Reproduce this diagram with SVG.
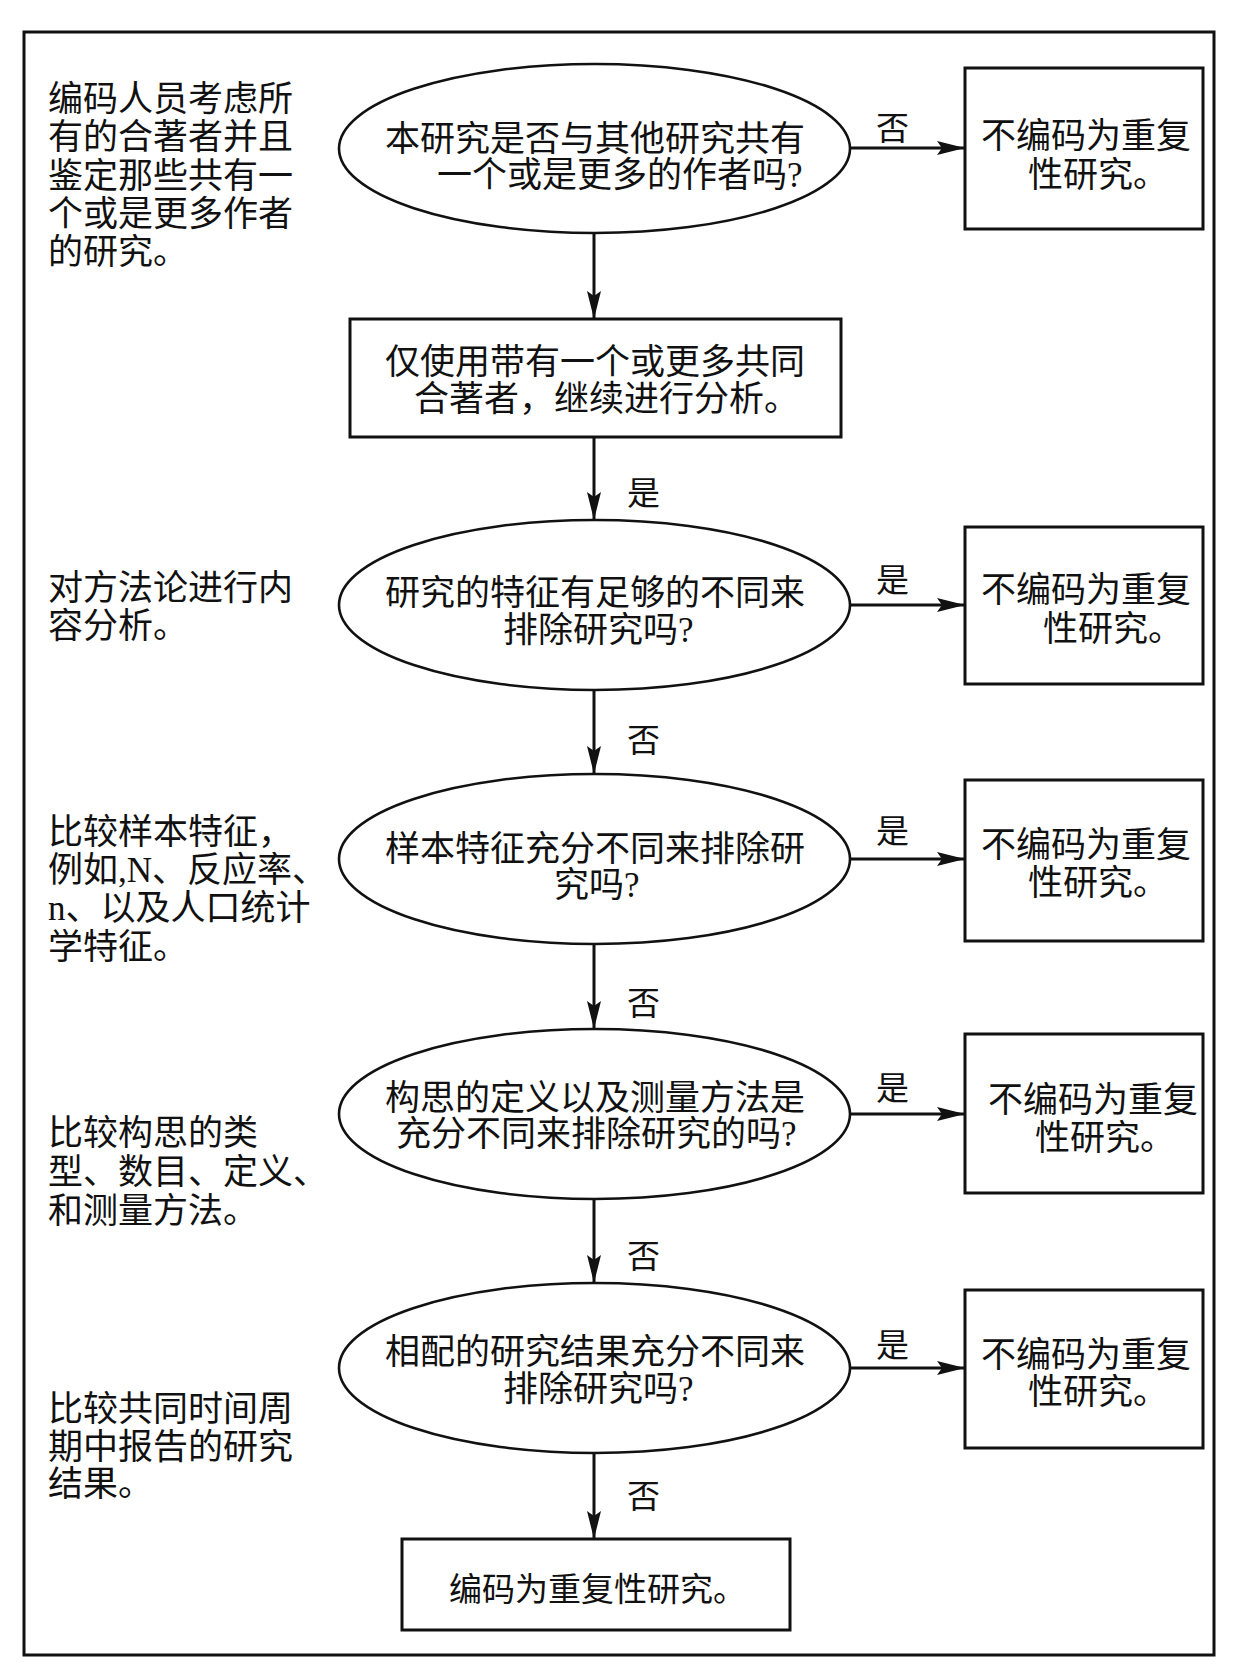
<svg xmlns="http://www.w3.org/2000/svg" width="1233" height="1669" viewBox="0 0 1233 1669">
<style>
  .t { font-family: "Liberation Serif", "Noto Sans CJK SC", serif; font-size: 35px; fill: #111; }
  .lb { font-family: "Liberation Serif", "Noto Sans CJK SC", serif; font-size: 33px; fill: #111; }
  .shape { fill: #fff; stroke: #111; stroke-width: 3; }
  .ell { fill: #fff; stroke: #111; stroke-width: 2.6; }
  .conn { stroke: #111; stroke-width: 3; fill: none; marker-end: url(#arr); }
</style>
<defs>
  <marker id="arr" markerUnits="userSpaceOnUse" markerWidth="28" markerHeight="14" refX="28" refY="7" orient="auto">
    <path d="M0,0 L28,7 L0,14 L5,7 Z" fill="#111"/>
  </marker>
</defs>
<rect x="0" y="0" width="1233" height="1669" fill="#fff"/>
<rect id="frame" x="24" y="32" width="1190" height="1623" fill="none" stroke="#111" stroke-width="3"/>

<g id="notes">
  <g id="note1">
    <text class="t" x="48" y="111">编码人员考虑所</text>
    <text class="t" x="48" y="149">有的合著者并且</text>
    <text class="t" x="48" y="188">鉴定那些共有一</text>
    <text class="t" x="48" y="226">个或是更多作者</text>
    <text class="t" x="48" y="264">的研究。</text>
  </g>
  <g id="note2">
    <text class="t" x="48" y="600">对方法论进行内</text>
    <text class="t" x="48" y="638">容分析。</text>
  </g>
  <g id="note3">
    <text class="t" x="48" y="844">比较样本特征，</text>
    <text class="t" x="48" y="882">例如,N、反应率、</text>
    <text class="t" x="48" y="920">n、以及人口统计</text>
    <text class="t" x="48" y="959">学特征。</text>
  </g>
  <g id="note4">
    <text class="t" x="48" y="1145">比较构思的类</text>
    <text class="t" x="48" y="1184">型、数目、定义、</text>
    <text class="t" x="48" y="1223">和测量方法。</text>
  </g>
  <g id="note5">
    <text class="t" x="48" y="1421">比较共同时间周</text>
    <text class="t" x="48" y="1459">期中报告的研究</text>
    <text class="t" x="48" y="1496">结果。</text>
  </g>
</g>

<g id="connectors">
  <line class="conn" x1="594" y1="233" x2="594" y2="319"/>
  <line class="conn" x1="594" y1="437" x2="594" y2="520"/>
  <line class="conn" x1="594" y1="690" x2="594" y2="774"/>
  <line class="conn" x1="594" y1="944" x2="594" y2="1029"/>
  <line class="conn" x1="594" y1="1199" x2="594" y2="1283"/>
  <line class="conn" x1="594" y1="1453" x2="594" y2="1539"/>
  <line class="conn" x1="850" y1="148" x2="965" y2="148"/>
  <line class="conn" x1="850" y1="605" x2="965" y2="605"/>
  <line class="conn" x1="850" y1="859" x2="965" y2="859"/>
  <line class="conn" x1="850" y1="1114" x2="965" y2="1114"/>
  <line class="conn" x1="850" y1="1368" x2="965" y2="1368"/>
  <text class="lb" x="876" y="140">否</text>
  <text class="lb" x="627" y="505">是</text>
  <text class="lb" x="876" y="592">是</text>
  <text class="lb" x="627" y="752">否</text>
  <text class="lb" x="876" y="843">是</text>
  <text class="lb" x="627" y="1015">否</text>
  <text class="lb" x="876" y="1100">是</text>
  <text class="lb" x="627" y="1268">否</text>
  <text class="lb" x="876" y="1357">是</text>
  <text class="lb" x="627" y="1508">否</text>
</g>

<g id="q1">
  <ellipse class="ell" cx="594.5" cy="148.5" rx="255.5" ry="84.5"/>
  <text class="t" x="385" y="151">本研究是否与其他研究共有</text>
  <text class="t" x="437" y="187">一个或是更多的作者吗?</text>
</g>
<g id="r1">
  <rect class="shape" x="965" y="68" width="238" height="161"/>
  <text class="t" x="981" y="148">不编码为重复</text>
  <text class="t" x="1028" y="187">性研究。</text>
</g>
<g id="step1">
  <rect class="shape" x="350" y="319" width="491" height="118"/>
  <text class="t" x="385" y="374">仅使用带有一个或更多共同</text>
  <text class="t" x="414" y="411">合著者，继续进行分析。</text>
</g>
<g id="q2">
  <ellipse class="ell" cx="594.5" cy="605" rx="255.5" ry="85"/>
  <text class="t" x="385" y="605">研究的特征有足够的不同来</text>
  <text class="t" x="503" y="642">排除研究吗?</text>
</g>
<g id="r2">
  <rect class="shape" x="965" y="527" width="238" height="157"/>
  <text class="t" x="981" y="602">不编码为重复</text>
  <text class="t" x="1043" y="641">性研究。</text>
</g>
<g id="q3">
  <ellipse class="ell" cx="594.5" cy="859" rx="255.5" ry="85"/>
  <text class="t" x="385" y="861">样本特征充分不同来排除研</text>
  <text class="t" x="554" y="897">究吗?</text>
</g>
<g id="r3">
  <rect class="shape" x="965" y="780" width="238" height="161"/>
  <text class="t" x="981" y="857">不编码为重复</text>
  <text class="t" x="1028" y="895">性研究。</text>
</g>
<g id="q4">
  <ellipse class="ell" cx="594.5" cy="1114" rx="255.5" ry="85"/>
  <text class="t" x="385" y="1110">构思的定义以及测量方法是</text>
  <text class="t" x="396" y="1146">充分不同来排除研究的吗?</text>
</g>
<g id="r4">
  <rect class="shape" x="965" y="1034" width="238" height="159"/>
  <text class="t" x="988" y="1112">不编码为重复</text>
  <text class="t" x="1035" y="1150">性研究。</text>
</g>
<g id="q5">
  <ellipse class="ell" cx="594.5" cy="1368" rx="255.5" ry="85"/>
  <text class="t" x="385" y="1364">相配的研究结果充分不同来</text>
  <text class="t" x="503" y="1401">排除研究吗?</text>
</g>
<g id="r5">
  <rect class="shape" x="965" y="1290" width="238" height="158"/>
  <text class="t" x="981" y="1367">不编码为重复</text>
  <text class="t" x="1028" y="1404">性研究。</text>
</g>
<g id="end">
  <rect class="shape" x="402" y="1539" width="388" height="91"/>
  <text class="t" x="449" y="1601" style="font-size:33px">编码为重复性研究。</text>
</g>
</svg>
